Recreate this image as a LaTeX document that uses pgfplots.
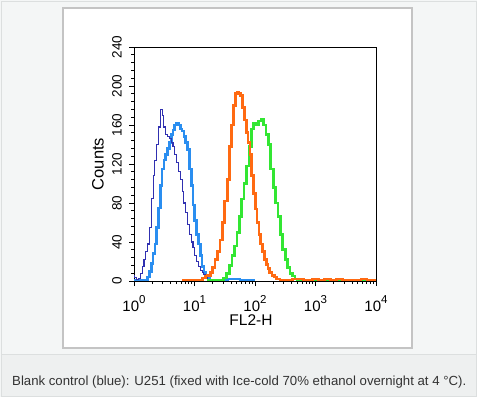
\documentclass[border=0pt]{standalone}
\usepackage{pgfplots}
\pgfplotsset{compat=1.18}
\usepackage{fontspec}
\setmainfont{Liberation Sans}
\definecolor{outerbg}{HTML}{F4F6F6}
\definecolor{capbg}{HTML}{EEF0F0}
\definecolor{outerline}{HTML}{DCDFDF}
\definecolor{panelline}{HTML}{C4C4C4}
\definecolor{captext}{HTML}{333333}
\definecolor{darkblue}{HTML}{3030B0}
\definecolor{lightblue}{HTML}{2A8EF0}
\definecolor{orangec}{HTML}{FF6A12}
\definecolor{greenc}{HTML}{33E633}
\newcommand{\dec}[1]{10\raisebox{0.55em}{\fontsize{11.5}{11.5}\selectfont #1}}
\newcommand{\rl}[1]{\rotatebox{90}{\fontsize{13.5}{13.5}\selectfont #1}}
\begin{document}
\begin{tikzpicture}[x=1pt,y=1pt]
\useasboundingbox (0,0) rectangle (477,397);
\fill[outerbg] (0,0) rectangle (477,397);
\fill[capbg] (1,1) rectangle (476,43);
\draw[outerline,line width=1pt] (1,1) rectangle (476,395);
\draw[outerline,line width=0.8pt] (1,43) -- (476,43);
\fill[white] (63,49) rectangle (412,389);
\draw[panelline,line width=1.2pt] (63,49) rectangle (412,389);
\node[anchor=base west,text=captext,inner sep=0pt,font=\fontsize{13.2}{14}\selectfont] at (12,12)
  {Blank control (blue): U251 (fixed with Ice-cold 70\% ethanol overnight at 4 °C).};
\begin{axis}[
  at={(134pt,116pt)}, anchor=south west,
  scale only axis, width=242pt, height=234pt,
  xmin=0, xmax=4, ymin=0, ymax=240,
  xtick={0,1,2,3,4},
  xticklabels={\dec{0},\dec{1},\dec{2},\dec{3},\dec{4}},
  minor xtick={0.301,0.477,0.602,0.699,0.778,0.845,0.903,0.954,
               1.301,1.477,1.602,1.699,1.778,1.845,1.903,1.954,
               2.301,2.477,2.602,2.699,2.778,2.845,2.903,2.954,
               3.301,3.477,3.602,3.699,3.778,3.845,3.903,3.954},
  ytick={0,40,80,120,160,200,240},
  yticklabels={\rl{0},\rl{40},\rl{80},\rl{120},\rl{160},\rl{200},\rl{240}},
  minor y tick num=4,
  xtick pos=bottom, ytick pos=left,
  tick align=outside,
  major tick length=5pt, minor tick length=3pt,
  every tick/.style={black, line width=0.8pt},
  axis line style={black, line width=1pt},
  xticklabel style={font=\fontsize{15}{15}\selectfont, inner sep=1pt, yshift=-8pt},
  yticklabel style={anchor=east, inner sep=1pt, xshift=-6pt},
  xlabel={FL2-H}, ylabel={Counts},
  xlabel style={font=\fontsize{15.5}{15.5}\selectfont, yshift=1pt, xshift=-4pt},
  ylabel style={font=\fontsize{16.5}{16.5}\selectfont, yshift=4pt},
]
% light blue (sample)
\addplot[lightblue, line width=2.7pt, const plot mark mid] coordinates {
(0.00,1)(0.15,1)(0.20,1)(0.24,4)(0.27,10)(0.30,18)(0.33,28)(0.36,38)(0.39,55)(0.42,75)
(0.45,98)(0.48,115)(0.51,124)(0.54,130)(0.57,136)(0.60,142)(0.63,150)(0.66,155)(0.69,160)
(0.72,162)(0.75,160)(0.78,156)(0.81,154)(0.84,148)(0.87,142)(0.90,135)(0.93,115)(0.96,98)
(0.99,78)(1.02,62)(1.05,48)(1.08,38)(1.11,26)(1.14,15)(1.17,9)(1.20,5)(1.23,3)(1.26,1)
(1.40,1)(1.70,2)(1.80,1)(2.00,1)
};
% dark blue (blank control)
\addplot[darkblue, line width=1.1pt, const plot mark mid] coordinates {
(0.00,6)(0.03,4)(0.06,2)(0.09,3)(0.12,8)(0.15,15)(0.18,22)(0.21,30)(0.24,38)(0.27,55)
(0.30,85)(0.33,108)(0.36,124)(0.39,140)(0.42,158)(0.45,176)(0.48,170)(0.51,158)(0.54,150)
(0.57,148)(0.60,146)(0.63,142)(0.66,138)(0.69,130)(0.72,122)(0.75,112)(0.78,104)(0.81,92)
(0.84,80)(0.87,70)(0.90,58)(0.93,48)(0.96,40)(0.99,34)(1.02,26)(1.05,20)(1.08,15)(1.11,11)
(1.14,9)(1.17,7)(1.20,4)(1.23,2)(1.26,1)(1.30,1)
};
% green
\addplot[greenc, line width=2.7pt, const plot mark mid] coordinates {
(1.20,1)(1.45,1)(1.50,3)(1.55,8)(1.60,16)(1.64,26)(1.68,36)(1.72,50)(1.76,66)(1.80,84)
(1.84,100)(1.88,118)(1.92,138)(1.96,156)(2.00,162)(2.04,160)(2.08,164)(2.12,166)(2.16,160)
(2.20,150)(2.24,140)(2.28,115)(2.32,96)(2.36,80)(2.40,66)(2.44,48)(2.48,32)(2.52,22)
(2.56,14)(2.60,8)(2.64,5)(2.68,2)(2.72,1)(2.80,1)(4.00,1)
};
% orange
\addplot[orangec, line width=2.7pt, const plot mark mid] coordinates {
(0.80,1)(1.10,1)(1.16,3)(1.20,5)(1.24,6)(1.28,9)(1.32,14)(1.36,22)(1.40,30)(1.44,42)
(1.48,60)(1.52,82)(1.56,104)(1.60,138)(1.63,160)(1.66,180)(1.69,192)(1.72,194)(1.75,192)
(1.78,190)(1.81,178)(1.84,165)(1.87,152)(1.90,142)(1.93,130)(1.96,108)(1.99,90)(2.02,74)
(2.05,60)(2.08,48)(2.11,38)(2.14,30)(2.17,22)(2.20,17)(2.23,13)(2.26,9)(2.30,6)(2.34,4)
(2.38,2)(2.45,1)(2.55,1)(2.70,2)(2.90,1)(3.00,2)(3.10,1)(3.20,2)(3.30,1)(3.40,2)(3.50,1)
(3.60,1)(3.70,1)(3.80,2)(3.90,1)(4.00,1)
};
\end{axis}
\end{tikzpicture}
\end{document}
